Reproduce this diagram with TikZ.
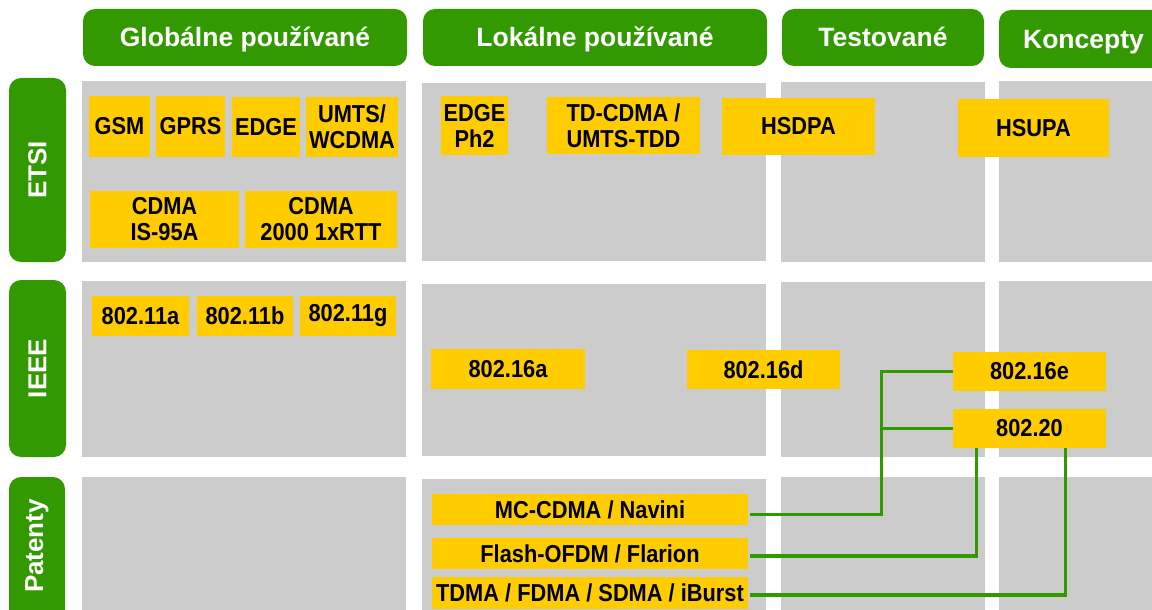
\documentclass[tikz,border=0pt]{standalone}
\usepackage{fontspec}
\setmainfont{Liberation Sans}
\newfontfamily\itemfam{Liberation Sans}[FakeStretch=0.89]
\usetikzlibrary{calc}
\definecolor{hdrgreen}{HTML}{339900}
\definecolor{cellgray}{HTML}{CCCCCC}
\definecolor{itemyellow}{HTML}{FFCC00}
% place a node given its left, top, right and bottom edges (y grows downwards)
\newcommand\placebox[7]{%
  \pgfmathsetmacro\bxw{#5-#3}\pgfmathsetmacro\bxh{#6-#4}%
  \pgfmathsetmacro\bxx{(#3+#5)/2}\pgfmathsetmacro\bxy{(#4+#6)/2}%
  \node[#1, minimum width=\bxw pt, minimum height=\bxh pt] (#2) at (\bxx,\bxy) {#7};}
\begin{document}
\begin{tikzpicture}[x=1pt, y=-1pt,
  hdr/.style={fill=hdrgreen, rounded corners=12pt, text=white, inner sep=0pt,
    text height=22pt, text depth=3pt,
    font=\fontsize{26.5}{26.5}\selectfont\bfseries},
  rowlbl/.style={fill=hdrgreen, rounded corners=12pt, text=white, inner sep=0pt,
    font=\fontsize{26}{26}\selectfont\bfseries},
  cell/.style={fill=cellgray, inner sep=0pt},
  item/.style={fill=itemyellow, inner sep=0pt, align=center,
    font=\itemfam\fontsize{24.5}{26}\selectfont\bfseries},
  link/.style={draw=hdrgreen, line width=3.3pt}]
\useasboundingbox (0,0) rectangle (1152,610);
\clip (0,0) rectangle (1152,610);

% column headers
\placebox{hdr}{hglob}{83}{9}{407}{66}{Globálne používané}
\placebox{hdr}{hlok}{423}{9}{767}{66}{Lokálne používané}
\placebox{hdr}{htest}{782}{9}{984}{66}{Testované}
\placebox{hdr}{hkonc}{999}{10}{1168}{68}{Koncepty}

% row labels
\placebox{rowlbl}{retsi}{9}{78}{66}{262}{\rotatebox{90}{ETSI}}
\placebox{rowlbl}{rieee}{9}{280}{66}{457}{\rotatebox{90}{IEEE}}
\placebox{rowlbl}{rpat}{9}{477}{65}{640}{}
\node[text=white, font=\fontsize{26}{26}\selectfont\bfseries, rotate=90] (rpattxt) at (37,546) {Patenty};

% grid cells
\placebox{cell}{c11}{82}{81}{406}{262}{}
\placebox{cell}{c12}{422}{83}{766}{261}{}
\placebox{cell}{c13}{781}{82}{985}{262}{}
\placebox{cell}{c14}{999}{81}{1160}{262}{}
\placebox{cell}{c21}{82}{281}{406}{457}{}
\placebox{cell}{c22}{422}{284}{766}{456}{}
\placebox{cell}{c23}{781}{282}{985}{457}{}
\placebox{cell}{c24}{999}{281}{1160}{457}{}
\placebox{cell}{c31}{82}{477}{406}{620}{}
\placebox{cell}{c32}{422}{479}{766}{620}{}
\placebox{cell}{c33}{781}{477}{985}{620}{}
\placebox{cell}{c34}{999}{477}{1160}{620}{}

% ETSI
\placebox{item}{gsm}{89}{96}{150}{157}{GSM}
\placebox{item}{gprs}{156}{96}{225}{157}{GPRS}
\placebox{item}{edge}{232}{97}{300}{157}{EDGE}
\placebox{item}{umts}{306}{97}{398}{157}{UMTS/\\WCDMA}
\placebox{item}{is95}{90}{191}{239}{248}{CDMA\\IS-95A}
\placebox{item}{rtt}{245}{191}{397}{248}{CDMA\\2000 1xRTT}
\placebox{item}{edge2}{441}{96}{508}{155}{EDGE\\Ph2}
\placebox{item}{tdcdma}{547}{97}{700}{154}{TD-CDMA /\\UMTS-TDD}
\placebox{item}{hsdpa}{722}{98}{875}{155}{HSDPA}
\placebox{item}{hsupa}{958}{99}{1109}{157}{HSUPA}

% IEEE
\placebox{item}{a11}{92}{296}{189}{336}{802.11a}
\placebox{item}{b11}{197}{296}{293}{336}{802.11b}
\placebox{item}{g11}{300}{296}{396}{336}{802.11g}
\placebox{item}{a16}{431}{349}{585}{389}{802.16a}
\placebox{item}{d16}{687}{350}{840}{389}{802.16d}
\placebox{item}{e16}{953}{352}{1106}{391}{802.16e}
\placebox{item}{w20}{953}{409}{1106}{448}{802.20}

% patents
\placebox{item}{mc}{432}{494}{748}{525}{MC-CDMA / Navini}
\placebox{item}{fl}{432}{538}{748}{569}{Flash-OFDM / Flarion}
\placebox{item}{td}{432}{577}{748}{609}{TDMA / FDMA / SDMA / iBurst}

% links from patents to the IEEE standards
\draw[link] ([xshift=2pt,yshift=-5pt]mc.east) -| ($(e16.west)+(-71,0)$) -- (e16.west);
\draw[link] ($(w20.west)+(-71,0)$) -- (w20.west);
\draw[link] ([xshift=2pt,yshift=-2.5pt]fl.east) -| ([xshift=24pt]w20.south west);
\draw[link] ([xshift=2pt,yshift=-2pt]td.east) -| ([xshift=113pt]w20.south west);
\end{tikzpicture}
\end{document}
